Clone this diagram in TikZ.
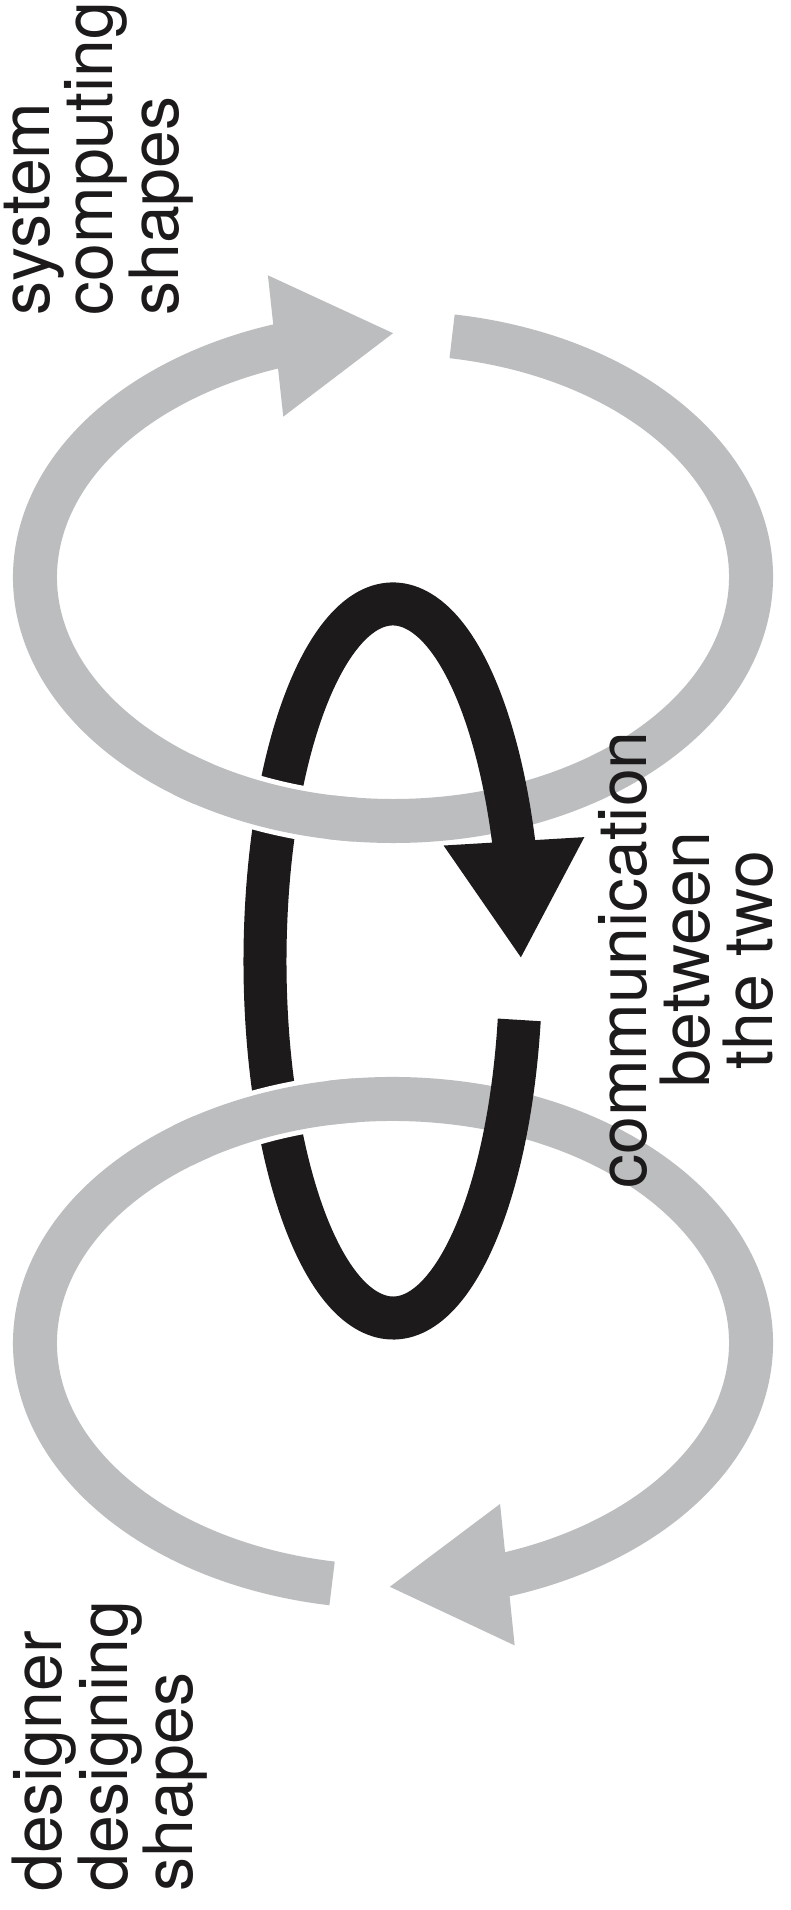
\documentclass[tikz,border=0pt]{standalone}
\usepackage{fontspec}
\setmainfont{TeX Gyre Heros}
\usetikzlibrary{arrows.meta,bending}
\definecolor{ringgray}{RGB}{188,189,191}
\definecolor{inkblack}{RGB}{28,26,27}

\begin{document}
\begin{tikzpicture}[x=1pt,y=1pt,
  ring/.style={draw=ringgray,line width=44pt,-{Triangle[width=133pt,length=120pt,flex]}},
  ringpart/.style={draw=ringgray,line width=44pt},
  halo/.style={draw=white,line width=54pt},
  commarrow/.style={draw=inkblack,line width=43pt,-{Triangle[width=132pt,length=118pt,flex]}},
  lbl/.style={rotate=90,inner sep=0pt,text=inkblack,font=\fontsize{68}{63}\selectfont}]
\useasboundingbox[fill=white] (0,0) rectangle (790,1910);
\coordinate (sysring) at (393,1333);
\coordinate (desring) at (393,567);
\coordinate (comloop) at (393,949);
% the two grey cycles
\draw[ring] (sysring) ++(80.5:358 and 244) arc[start angle=80.5,end angle=-270.3,x radius=358,y radius=244];
\draw[ring] (desring) ++(260.2:358 and 244) arc[start angle=260.2,end angle=-90.8,x radius=358,y radius=244];
% black cycle linking them
\draw[commarrow] (comloop) ++(-9.5:128 and 357) arc[start angle=-9.5,end angle=-359.7,x radius=128,y radius=357];
% grey passes over the black on the left
\draw[halo] (sysring) ++(238:358 and 244) arc[start angle=238,end angle=260,x radius=358,y radius=244];
\draw[ringpart] (sysring) ++(234:358 and 244) arc[start angle=234,end angle=264,x radius=358,y radius=244];
\draw[halo] (desring) ++(100:358 and 244) arc[start angle=100,end angle=122,x radius=358,y radius=244];
\draw[ringpart] (desring) ++(96:358 and 244) arc[start angle=96,end angle=126,x radius=358,y radius=244];
\node[lbl,anchor=north west,align=left] (syslbl) at (4,1594) {system\\computing\\shapes};
\node[lbl,anchor=north west,align=left] (deslbl) at (12,18) {designer\\designing\\shapes};
\node[lbl,anchor=north,align=center] (comlbl) at (598,950) {communication\\between\\the two};
\end{tikzpicture}
\end{document}
